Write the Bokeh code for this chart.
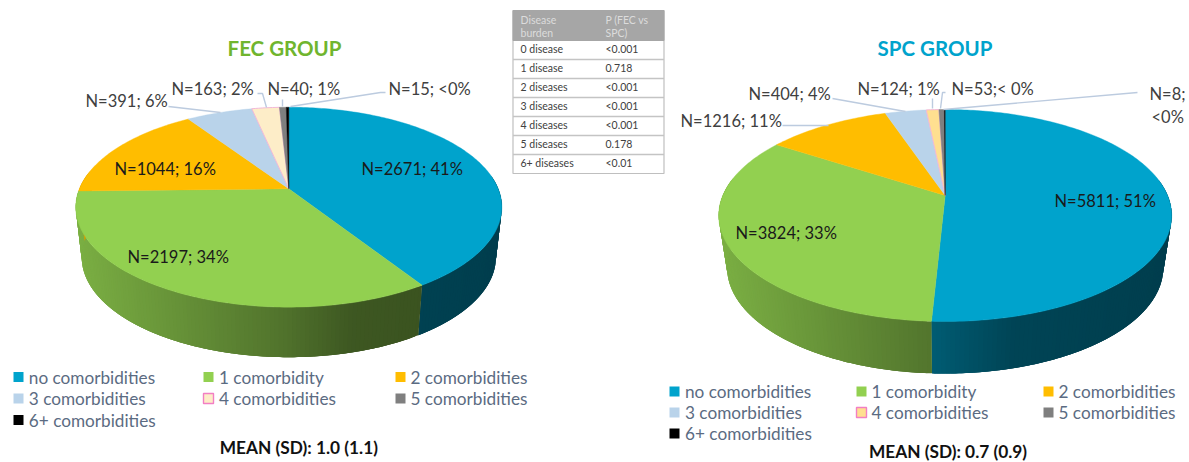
import numpy as np
from bokeh.plotting import figure
from bokeh.models import Range1d
from bokeh.core.properties import value
from bokeh.embed import file_html
from bokeh.resources import INLINE

# ---------- data ----------
categories = ["no comorbidities", "1 comorbidity", "2 comorbidities", "3 comorbidities",
              "4 comorbidities", "5 comorbidities", "6+ comorbidities"]
fec_counts = [2671, 2197, 1044, 391, 163, 40, 15]
spc_counts = [5811, 3824, 1216, 404, 124, 53, 8]
fec_labels = ["N=2671; 41%", "N=2197; 34%", "N=1044; 16%", "N=391; 6%", "N=163; 2%", "N=40; 1%", "N=15; <0%"]
spc_labels = ["N=5811; 51%", "N=3824; 33%", "N=1216; 11%", "N=404; 4%", "N=124; 1%", "N=53;< 0%", "N=8;"]
table_head_a = ["Disease", "burden"]
table_head_b = ["P (FEC vs", "SPC)"]
table_burden = ["0 disease", "1 disease", "2 diseases", "3 diseases", "4 diseases", "5 diseases", "6+ diseases"]
table_p = ["<0.001", "0.718", "<0.001", "<0.001", "<0.001", "0.178", "<0.01"]

# ---------- styles ----------
FEC_COLORS = ["#00a3cc", "#92d050", "#ffbd00", "#b9d3ea", "#fdedc8", "#7f7f7f", "#000000"]
SPC_COLORS = ["#00a3cc", "#92d050", "#ffbd00", "#b9d3ea", "#ffdf90", "#7f7f7f", "#000000"]
FONT = value("Lato")
W, H = 1189, 462

p = figure(width=W, height=H, x_range=Range1d(0, W), y_range=Range1d(H, 0),
           toolbar_location=None, output_backend="svg", min_border=0,
           background_fill_color="white", border_fill_color="white")
p.xaxis.visible = False
p.yaxis.visible = False
p.grid.visible = False
p.outline_line_color = None


def hex_rgb(c):
    return np.array([int(c[i:i + 2], 16) for i in (1, 3, 5)], dtype=float)


def rgb_hex(a):
    return "#%02x%02x%02x" % tuple(int(round(max(0, min(255, x)))) for x in a)


def pie3d(counts, colors, cx, cy, A, B, k, T, s):
    fr = np.array(counts, dtype=float) / sum(counts)
    edges = np.concatenate([[0], np.cumsum(fr)]) * 2 * np.pi

    def proj(th):
        u, v = np.sin(th), -np.cos(th)
        d = 1 - k * v
        return cx + A * u / d, cy + B * v / d

    # side wall: overlapping strips, shaded left to right
    rx = A / np.sqrt(1 - k * k)
    sx, sy, sc = [], [], []
    step = np.radians(1.0)
    for i in range(len(fr)):
        n = max(1, int(np.ceil((edges[i + 1] - edges[i]) / step)))
        ed = np.linspace(edges[i], edges[i + 1], n + 1)
        for a, b in zip(ed[:-1], ed[1:]):
            if -np.cos((a + b) / 2) < -0.15:
                continue
            b2 = min(b + 2 * step, edges[i + 1])
            th = np.linspace(a, b2, 5)
            xa, ya = proj(th)
            xa2 = cx + (xa - cx) * s
            t = (proj((a + b) / 2)[0] - cx) / rx
            m = np.interp(t, [-1, -0.05, 0.3, 0.63, 1], [0.84, 0.56, 0.42, 0.40, 0.38])
            sx.append(np.concatenate([xa, xa2[::-1]]))
            sy.append(np.concatenate([ya, (ya + T)[::-1]]))
            sc.append(rgb_hex(hex_rgb(colors[i]) * m))
    p.patches(sx, sy, fill_color=sc, line_color=None)

    # top face
    for i in range(len(fr)):
        th = np.linspace(edges[i], edges[i + 1], max(2, int((edges[i + 1] - edges[i]) * 60)))
        x, y = proj(th)
        xs = np.concatenate([[cx], x])
        ys = np.concatenate([[cy], y])
        is_pink = i == 4
        p.patch(xs, ys, fill_color=colors[i],
                line_color="#f2b8d6" if is_pink else colors[i],
                line_width=1.0 if is_pink else 0.4)


pie3d(fec_counts, FEC_COLORS, 288.3, 188.3, 209.4, 96.6, 0.184, 50, 0.972)
pie3d(spc_counts, SPC_COLORS, 944.7, 195.0, 222.4, 102.2, 0.189, 52, 0.963)

# leader lines
LEADER = "#bccbdf"
for xs, ys in [
    ([168, 220], [106, 112]),
    ([257, 262, 266], [93, 93, 107]),
    ([282, 282], [99, 106]),
    ([385, 380, 290], [92, 92, 106]),
    ([782, 828], [125, 125]),
    ([832, 905], [98, 111]),
    ([932, 932], [98, 108]),
    ([945, 942, 940], [92, 92, 108]),
    ([1137, 943], [92, 109]),
]:
    p.line(xs, ys, line_color=LEADER, line_width=1.4)


def label(x, y, t, color="#262626", size="16.5px", style="normal", align="left"):
    p.text([x], [y], text=[t], text_font=FONT, text_font_size=size, text_color=color,
           text_font_style=style, text_align=align, text_baseline="middle")


# pie data labels
for (x, y), t in zip([(361, 168), (127, 256), (114, 168), (85, 100), (171, 88), (267, 88), (388, 88)], fec_labels):
    label(x, y, t, "#1a1a1a" if y > 150 else "#404040")
for (x, y), t in zip([(1054, 200), (735, 232), (680, 120), (748, 93), (857, 88), (951, 88), (1149, 93)], spc_labels):
    label(x, y, t, "#1a1a1a" if y > 150 else "#404040")
label(1151, 116, "<0%", "#404040")

# titles
label(284, 47, "FEC GROUP", "#70b52e", "20.5px", "bold", "center")
label(934.5, 47, "SPC GROUP", "#00a3cc", "20.5px", "bold", "center")

# legends
LEG_TEXT = "#5b6b82"


def legend(colors, col_sq, col_tx, rows):
    for i, c in enumerate(categories):
        r, cl = i // 3, i % 3
        pink = i == 4
        p.rect([col_sq[cl] + 5], [rows[r]], width=10, height=10, fill_color=colors[i],
               line_color="#f27fc4" if pink else colors[i], line_width=1.4 if pink else 0)
        label(col_tx[cl], rows[r], c, LEG_TEXT, "17.2px")


legend(FEC_COLORS, [13, 203, 395], [28.3, 218.5, 410], [376.5, 398, 419.5])
legend(SPC_COLORS, [669, 856, 1043], [684.5, 871, 1058], [391, 412, 433])

label(298.3, 446.7, "MEAN (SD): 1.0 (1.1)", "#111111", "17.3px", "bold", "center")
label(947.5, 451, "MEAN (SD): 0.7 (0.9)", "#111111", "17.3px", "bold", "center")

# table
TX0, TX1 = 512.5, 663.5
p.quad(left=[TX0], right=[TX1], top=[10], bottom=[173], fill_color="white", line_color="#bfbfbf", line_width=1.2)
p.quad(left=[TX0], right=[TX1], top=[10], bottom=[40], fill_color="#a6a6a6", line_color="#a6a6a6", line_width=1)
row_y = [40 + 19 * i for i in range(len(table_burden) + 1)]
for y in row_y[1:-1]:
    p.line([TX0, TX1], [y, y], line_color="#c4c4c4", line_width=1.6)
for i, y in enumerate([19, 32]):
    label(520, y, table_head_a[i], "#dcdcdc", "10.5px")
    label(605, y, table_head_b[i], "#dcdcdc", "10.5px")
for i, (a, b) in enumerate(zip(table_burden, table_p)):
    y = row_y[i] + 8
    label(520, y, a, "#404040", "10.5px")
    label(605, y, b, "#404040", "10.5px")

open("out.html", "w").write(file_html(p, INLINE))
